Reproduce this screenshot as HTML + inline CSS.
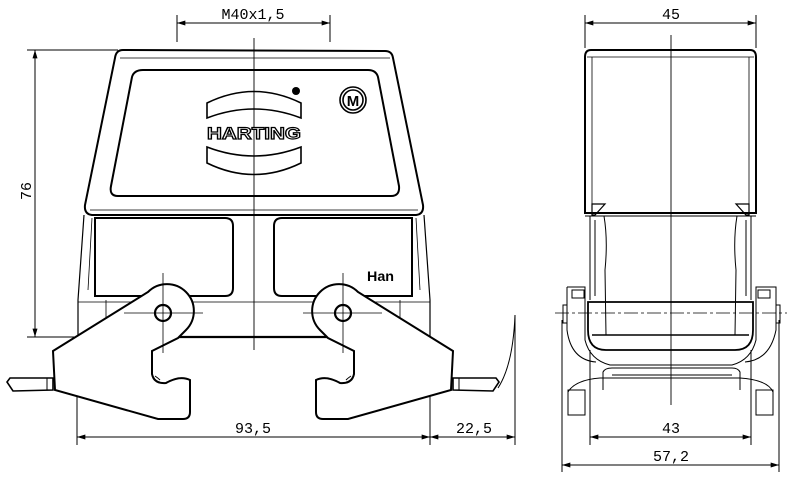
<!DOCTYPE html>
<html><head><meta charset="utf-8"><style>
html,body{margin:0;padding:0;background:#fff}
svg{display:block}
text{font-family:"Liberation Mono","DejaVu Sans Mono",monospace;font-size:15px;fill:#000}
</style></head><body>
<svg width="799" height="480" viewBox="0 0 799 480" xmlns="http://www.w3.org/2000/svg">
<defs>
<marker id="a" viewBox="0 0 10 6" refX="10" refY="3" markerWidth="10" markerHeight="5" orient="auto-start-reverse" markerUnits="userSpaceOnUse"><path d="M0,0 L10,3 L0,6z" fill="#000"/></marker>
<g id="lever">
<path d="M53,351 L148,292 A26,26 0 0 1 186,330 L178,338 L152,351 L152,374 Q154,384 166,383 Q180,375 190,380 L190,412 Q190,419 183,419 L158,419 L55,390 Z" fill="#fff" stroke="#000" stroke-width="2"/>
<path d="M155,376 Q158,378 160,380" fill="none" stroke="#000"/>
<path d="M53,378 L10,378 L7,382 L13,391 L53,390 Z" fill="#fff" stroke="#000" stroke-width="1.6"/>
<line x1="47" y1="378" x2="47" y2="390" stroke="#000"/>
<circle cx="163" cy="313" r="8" fill="#fff" stroke="#000" stroke-width="2.2"/>
<line x1="124" y1="313" x2="203" y2="313" stroke="#000" stroke-width="0.8"/>
<line x1="163" y1="273" x2="163" y2="353" stroke="#000" stroke-width="0.8"/>
</g>
</defs>
<g fill="none" stroke="#000" stroke-width="1">
<!-- M40 dim -->
<line x1="177" y1="15" x2="177" y2="42"/><line x1="330" y1="15" x2="330" y2="42"/>
<line x1="177" y1="23" x2="330" y2="23" marker-start="url(#a)" marker-end="url(#a)"/>
<!-- 76 dim -->
<line x1="27" y1="50" x2="118" y2="50"/><line x1="27" y1="337" x2="80" y2="337"/>
<line x1="35" y1="50" x2="35" y2="337" marker-start="url(#a)" marker-end="url(#a)"/>
<!-- upper hood -->
<path d="M123,50 L385,51 Q392,51 393,58 L423,205 Q424,214 416,215 L92,215 Q84,214 85,205 L115,58 Q116,50 123,50 Z" stroke-width="2"/>
<path d="M120,58 L390,58 M90,210 L418,210" stroke-width="0.8"/>
<path d="M143,70 L368,70 Q376,70 378,77 L399,186 Q400,196 391,196 L118,196 Q109,196 111,186 L132,77 Q134,70 143,70 Z" stroke-width="2"/>
<!-- lower body -->
<path d="M84,215 L78,300 L78,337 L430,337 L430,300 L424,215" stroke-width="1.2"/>
<path d="M92,218 L88,290 M416,218 L420,290 M78,302 L430,302 M106,300 L106,330 M400,300 L400,330" stroke-width="0.8"/>
<path d="M95,218 L225,218 Q233,218 233,226 L233,288 Q233,296 225,296 L95,296 Z" stroke-width="2"/>
<path d="M282,218 L412,218 L412,296 L282,296 Q274,296 274,288 L274,226 Q274,218 282,218 Z" stroke-width="2"/>
<line x1="175" y1="337" x2="335" y2="337" stroke-width="2.2"/>
<line x1="254" y1="38" x2="254" y2="350" stroke-width="0.9"/>
<!-- 93,5 & 22,5 dims -->
<line x1="77" y1="337" x2="77" y2="445"/><line x1="430" y1="300" x2="430" y2="445"/><line x1="515" y1="315" x2="515" y2="445"/>
<line x1="86" y1="337" x2="86" y2="395"/><line x1="420" y1="337" x2="420" y2="395"/>
<line x1="77" y1="437" x2="430" y2="437" marker-start="url(#a)" marker-end="url(#a)"/>
<line x1="430" y1="437" x2="515" y2="437" marker-start="url(#a)" marker-end="url(#a)"/>
<path d="M515,315 Q513,365 498,388"/>
</g>
<use href="#lever"/>
<use href="#lever" transform="translate(506,0) scale(-1,1)"/>
<!-- logo -->
<g fill="none" stroke="#000" stroke-width="1.6">
<path d="M207,103 Q254,80 301,103 L301,118 Q254,100 207,118 Z"/>
<path d="M207,147 Q254,165 301,147 L301,163 Q254,186 207,163 Z"/>
<circle cx="353" cy="100" r="13"/><circle cx="353" cy="100" r="10"/>
</g>
<circle cx="296" cy="91" r="4" fill="#000"/>
<text x="254" y="139" text-anchor="middle" style="font-family:'Liberation Sans',sans-serif;font-weight:bold;font-size:17px;fill:#fff;stroke:#000;stroke-width:1.2" textLength="94" lengthAdjust="spacingAndGlyphs">HARTING</text>
<text x="353" y="106" text-anchor="middle" style="font-family:'Liberation Sans',sans-serif;font-weight:bold;font-size:15px">M</text>
<text x="367" y="281" style="font-family:'Liberation Sans',sans-serif;font-weight:bold;font-size:14px" textLength="27" lengthAdjust="spacingAndGlyphs">Han</text>
<text x="253" y="19" text-anchor="middle">M40x1,5</text>
<text x="31" y="191" text-anchor="middle" transform="rotate(-90 31 191)">76</text>
<text x="253" y="433" text-anchor="middle">93,5</text>
<text x="474" y="433" text-anchor="middle">22,5</text>
<!-- right view -->
<g fill="none" stroke="#000" stroke-width="1">
<line x1="585" y1="15" x2="585" y2="48"/><line x1="756" y1="15" x2="756" y2="48"/>
<line x1="585" y1="23" x2="756" y2="23" marker-start="url(#a)" marker-end="url(#a)"/>
<path d="M591,50 L750,50 Q756,50 756,57 L756,213 L585,213 L585,57 Q585,50 591,50 Z" stroke-width="2"/>
<line x1="587" y1="57" x2="754" y2="57" stroke-width="0.8"/>
<line x1="592" y1="57" x2="592" y2="205" stroke-width="0.8"/><line x1="749" y1="57" x2="749" y2="205" stroke-width="0.8"/>
<path d="M592,204 L605,204 L595,215 L592,215 Z M749,204 L736,204 L746,215 L749,215 Z" stroke-width="1.2"/>
<line x1="585" y1="216" x2="756" y2="216"/>
<path d="M590,216 L590,300 M751,216 L751,300 M595,220 L595,296 M746,220 L746,296"/>
<path d="M604,216 Q608,240 605,270 L606,335 M737,216 Q733,240 736,270 L735,335"/>
<path d="M588,302 L753,302 L753,330 Q753,350 735,350 L606,350 Q588,350 588,330 Z" stroke-width="1.8"/>
<line x1="592" y1="335" x2="749" y2="335" stroke-width="1.5"/>
<path d="M567,287 L585,287 L585,340 Q590,360 610,365 L732,365 Q751,360 756,340 L756,287 L776,287 L776,330 Q770,360 745,362"/>
<path d="M567,287 L567,330 Q571,360 596,362"/>
<path d="M568,390 L585,390 L585,415 L568,415 Z M756,390 L773,390 L773,415 L756,415 Z"/>
<path d="M568,392 Q575,380 600,378 L740,378 Q768,380 773,392"/>
<path d="M603,390 L603,378 M740,390 L740,378"/>
<path d="M603,378 L603,372 Q605,368 612,368 L732,368 Q738,368 740,372 L740,378 M612,375 L732,375"/>
<rect x="563" y="305" width="4" height="18"/><rect x="776" y="305" width="4" height="18"/>
<rect x="572" y="290" width="12" height="8"/><rect x="758" y="290" width="12" height="8"/>
<line x1="555" y1="313" x2="787" y2="313" stroke-dasharray="14,3,3,3" stroke-width="0.8"/>
<line x1="671" y1="35" x2="671" y2="405" stroke-width="0.9"/>
<line x1="590" y1="350" x2="590" y2="445"/><line x1="751" y1="350" x2="751" y2="445"/>
<line x1="590" y1="437" x2="751" y2="437" marker-start="url(#a)" marker-end="url(#a)"/>
<line x1="562" y1="320" x2="562" y2="472"/><line x1="779" y1="320" x2="779" y2="472"/>
<line x1="562" y1="465" x2="779" y2="465" marker-start="url(#a)" marker-end="url(#a)"/>
</g>
<text x="671" y="19" text-anchor="middle">45</text>
<text x="671" y="433" text-anchor="middle">43</text>
<text x="671" y="461" text-anchor="middle">57,2</text>
</svg>
</body></html>
